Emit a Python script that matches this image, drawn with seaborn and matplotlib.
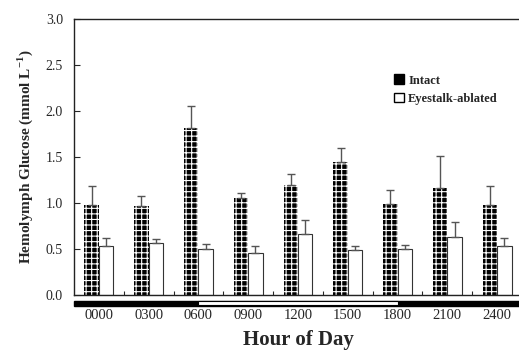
import numpy as np
import pandas as pd
import matplotlib.pyplot as plt
import seaborn as sns
from matplotlib.patches import Patch, Rectangle

# chart values
hours = ['0000', '0300', '0600', '0900', '1200', '1500', '1800', '2100', '2400']
intact = [0.98, 0.97, 1.82, 1.05, 1.20, 1.45, 0.99, 1.16, 0.98]
intact_err = [0.20, 0.11, 0.23, 0.06, 0.12, 0.15, 0.15, 0.35, 0.20]
ablated = [0.53, 0.57, 0.50, 0.46, 0.66, 0.49, 0.50, 0.63, 0.53]
ablated_err = [0.09, 0.04, 0.05, 0.07, 0.15, 0.04, 0.04, 0.16, 0.09]
groups = ['Intact', 'Eyestalk-ablated']
# photoperiod: light phase between 0600 and 1800
light_on = '0600'
light_off = '1800'

sns.set_style('ticks')
plt.rcParams['font.family'] = ['Liberation Serif', 'DejaVu Serif']
plt.rcParams['mathtext.fontset'] = 'custom'
plt.rcParams['mathtext.rm'] = 'Liberation Serif:bold'
plt.rcParams['mathtext.bf'] = 'Liberation Serif:bold'
plt.rcParams['hatch.linewidth'] = 0.8
plt.rcParams['hatch.color'] = 'white'

data = pd.DataFrame({
    'Hour': hours * 2,
    'Glucose': intact + ablated,
    'Group': [groups[0]] * len(hours) + [groups[1]] * len(hours),
})

fig = plt.figure(figsize=(5.19, 3.52), dpi=100)
ax = fig.add_axes([74 / 519, 57 / 352, 448 / 519, 276 / 352])

sns.barplot(data=data, x='Hour', y='Glucose', hue='Group', order=hours,
            hue_order=groups, palette=['black', 'white'], width=0.58,
            errorbar=None, legend=False, ax=ax, saturation=1)

n = len(hours)
for i, p in enumerate(ax.patches[:2 * n]):
    if i < n:
        p.set_facecolor('black')
        p.set_edgecolor('white')
        p.set_hatch('+++')
        p.set_linewidth(0)
        err = intact_err[i]
    else:
        p.set_edgecolor('#333333')
        p.set_linewidth(0.8)
        err = ablated_err[i - n]
    xc = p.get_x() + p.get_width() / 2
    ax.errorbar(xc, p.get_height(), yerr=[[0], [err]], fmt='none',
                ecolor='#555555', elinewidth=1, capsize=3, capthick=1)

ax.set_xlim(-0.5, n - 0.5)
ax.set_ylim(0, 3.0)
ax.set_yticks(np.arange(0, 3.01, 0.5))
ax.yaxis.set_major_formatter(plt.FormatStrFormatter('%.1f'))
ax.set_xticks(range(n))
ax.set_xticks(np.arange(0.5, n - 0.5, 1), minor=True)
ax.tick_params(axis='x', which='major', length=0, pad=10, labelsize=10.5)
ax.tick_params(axis='x', which='minor', length=3, direction='in', width=0.8)
ax.tick_params(axis='y', direction='in', length=4, width=0.8, pad=8, labelsize=10)

for s in ax.spines.values():
    s.set_visible(True)
    s.set_linewidth(1)
    s.set_color('#222222')

# light / dark bar under the axis
tr = ax.get_xaxis_transform()
x_on = hours.index(light_on)
x_off = hours.index(light_off)
ax.add_patch(Rectangle((-0.5, -0.039), n + 1, 0.018, transform=tr,
                       facecolor='black', edgecolor='black', clip_on=False))
ax.add_patch(Rectangle((x_on, -0.037), x_off - x_on, 0.015, transform=tr,
                       facecolor='white', edgecolor='black', linewidth=0.8,
                       clip_on=False, zorder=3))

ax.set_xlabel('Hour of Day', fontsize=15, fontweight='bold', labelpad=6)
ax.set_ylabel('Hemolymph Glucose (mmol L$^{-1}$)', fontsize=11,
              fontweight='bold', labelpad=8)

handles = [Patch(facecolor='black', edgecolor='black'),
           Patch(facecolor='white', edgecolor='black')]
ax.legend(handles, groups, loc='upper left', bbox_to_anchor=(0.69, 0.84),
          frameon=False, handlelength=0.8, handleheight=0.8, handletextpad=0.3,
          labelspacing=0.5, prop={'weight': 'bold', 'size': 9})

fig.savefig('out.png', dpi=100)
